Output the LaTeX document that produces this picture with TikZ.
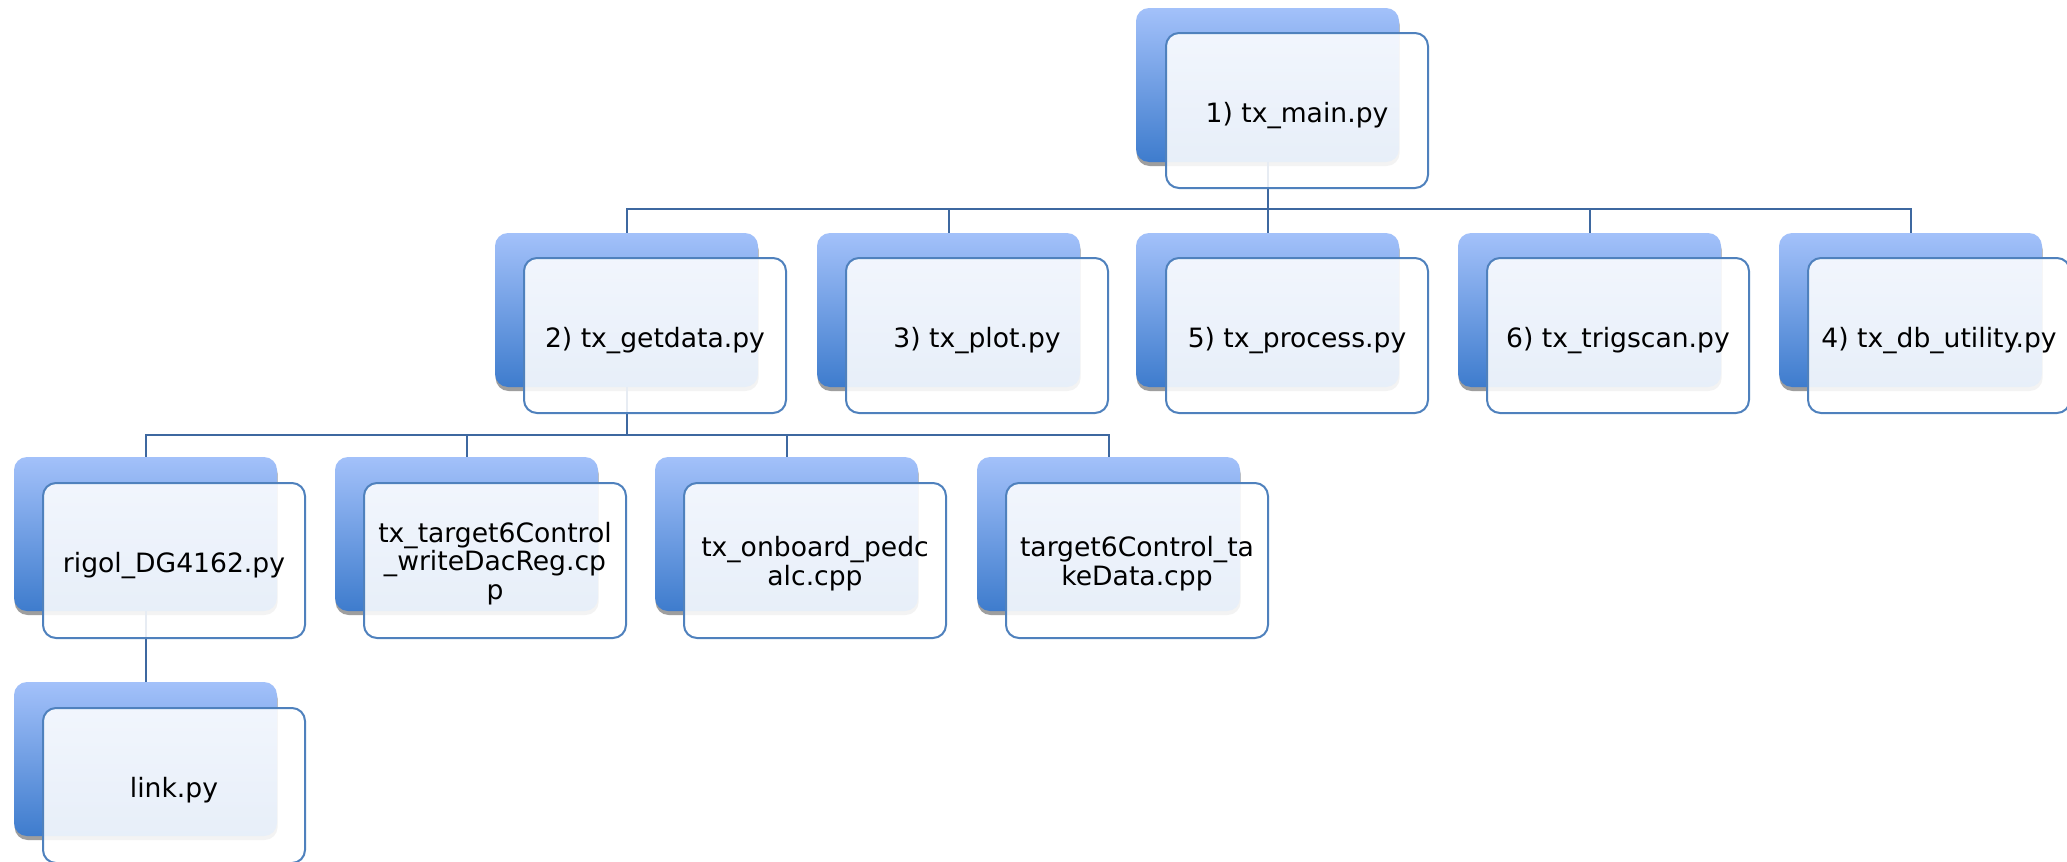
\documentclass[tikz,border=0pt]{standalone}
\usepackage{fontspec}
\setmainfont{DejaVu Sans}
\usetikzlibrary{shadows}
\definecolor{bluetop}{RGB}{163,193,250}
\definecolor{bluebot}{RGB}{62,124,205}
\definecolor{boxline}{RGB}{79,129,189}
\definecolor{connc}{RGB}{62,104,160}
\begin{document}
\begin{tikzpicture}[x=0.5pt,y=-0.5pt,
  bluebox/.style={rectangle, rounded corners=6.5pt, minimum width=131.5pt, minimum height=77pt,
    inner sep=0pt, outer sep=0pt, top color=bluetop, bottom color=bluebot, draw=none,
    drop shadow={shadow xshift=0.3pt, shadow yshift=-2pt, fill=black!38, opacity=1}},
  whitebox/.style={rectangle, rounded corners=6.5pt, minimum width=131pt, minimum height=77.5pt,
    inner sep=0pt, outer sep=0pt, draw=boxline, line width=1pt, fill=white, fill opacity=0.88},
  lbl/.style={font=\fontsize{13.3}{14.2}\selectfont, inner sep=0pt, align=center, text=black},
  conn/.style={draw=connc, line width=1pt}
]
\fill[white] (0,0) rectangle (2067,862);
\useasboundingbox (0,0) rectangle (2067,862);

% blue back boxes
\node[bluebox, anchor=north west] (bmain) at (1136,8) {};
\node[bluebox, anchor=north west] (bget) at (495,233) {};
\node[bluebox, anchor=north west] (bplot) at (817,233) {};
\node[bluebox, anchor=north west] (bproc) at (1136,233) {};
\node[bluebox, anchor=north west] (btrig) at (1458,233) {};
\node[bluebox, anchor=north west] (bdb) at (1779,233) {};
\node[bluebox, anchor=north west] (brigol) at (14,457) {};
\node[bluebox, anchor=north west] (bwrite) at (335,457) {};
\node[bluebox, anchor=north west] (bped) at (655,457) {};
\node[bluebox, anchor=north west] (btake) at (977,457) {};
\node[bluebox, anchor=north west] (blink) at (14,682) {};

% connectors
\coordinate (busA) at (0,209);
\coordinate (busB) at (0,435);
\draw[conn] (bmain.south) -- (bmain.south |- busA) -| (bget.north);
\draw[conn] (bmain.south |- busA) -| (bplot.north);
\draw[conn] (bmain.south |- busA) -- (bproc.north);
\draw[conn] (bmain.south |- busA) -| (btrig.north);
\draw[conn] (bmain.south |- busA) -| (bdb.north);
\draw[conn] (bget.south) -- (bget.south |- busB) -| (brigol.north);
\draw[conn] (bget.south |- busB) -| (bwrite.north);
\draw[conn] (bget.south |- busB) -| (bped.north);
\draw[conn] (bget.south |- busB) -| (btake.north);
\draw[conn] (brigol.south) -- (blink.north);

% white front boxes
\node[whitebox, anchor=north west] (wmain) at (1166,33) {};
\node[whitebox, anchor=north west] (wget) at (524,258) {};
\node[whitebox, anchor=north west] (wplot) at (846,258) {};
\node[whitebox, anchor=north west] (wproc) at (1166,258) {};
\node[whitebox, anchor=north west] (wtrig) at (1487,258) {};
\node[whitebox, anchor=north west] (wdb) at (1808,258) {};
\node[whitebox, anchor=north west] (wrigol) at (43,483) {};
\node[whitebox, anchor=north west] (wwrite) at (364,483) {};
\node[whitebox, anchor=north west] (wped) at (684,483) {};
\node[whitebox, anchor=north west] (wtake) at (1006,483) {};
\node[whitebox, anchor=north west] (wlink) at (43,708) {};

% labels
\node[lbl, anchor=base] (tmain) at ([yshift=-6pt]wmain.center) {1) tx\_main.py};
\node[lbl, anchor=base] (tget) at ([yshift=-6pt]wget.center) {2) tx\_getdata.py};
\node[lbl, anchor=base] (tplot) at ([yshift=-6pt]wplot.center) {3) tx\_plot.py};
\node[lbl, anchor=base] (tproc) at ([yshift=-6pt]wproc.center) {5) tx\_process.py};
\node[lbl, anchor=base] (ttrig) at ([yshift=-6pt]wtrig.center) {6) tx\_trigscan.py};
\node[lbl, anchor=base] (tdb) at ([yshift=-6pt]wdb.center) {4) tx\_db\_utility.py};
\node[lbl, anchor=base] (trigol) at ([yshift=-6pt]wrigol.center) {rigol\_DG4162.py};
\node[lbl] (twrite) at ([yshift=-1.5pt]wwrite.center) {tx\_target6Control\\\_writeDacReg.cp\\p};
\node[lbl] (tped) at ([yshift=-1.5pt]wped.center) {tx\_onboard\_pedc\\alc.cpp};
\node[lbl] (ttake) at ([yshift=-1.5pt]wtake.center) {target6Control\_ta\\keData.cpp};
\node[lbl, anchor=base] (tlink) at ([yshift=-6pt]wlink.center) {link.py};
\end{tikzpicture}
\end{document}
